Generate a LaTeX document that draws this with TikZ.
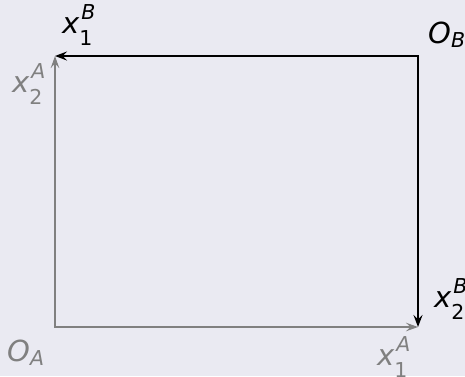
\documentclass[tikz,border=0pt]{standalone}
\usepackage{fontspec}
\setmainfont{DejaVu Sans}
\usetikzlibrary{arrows.meta}
\definecolor{bgc}{HTML}{EAEAF2}
\definecolor{axg}{HTML}{808080}
\newcommand\scr{\fontsize{20.5}{20.5}\selectfont}
\newcommand\ssb[3]{\itshape #1\makebox[0pt][l]{\hspace{2pt}\raisebox{14pt}{\scr #3}}\raisebox{-12pt}{\scr\upshape #2}}
\newcommand\sbo[2]{\itshape #1\raisebox{-4pt}{\scr #2}}
\begin{document}
\begin{tikzpicture}[x=1pt,y=-1pt,
  lbl/.style={anchor=base west,inner sep=0pt,font=\fontsize{29}{29}\selectfont},
  blk/.style={draw=black,line width=2.4pt,line cap=rect,-{Stealth[length=12pt,width=9pt,inset=4.5pt]}},
  gry/.style={draw=axg,line width=1.8pt,line cap=rect,-{Stealth[length=12pt,width=8.5pt,inset=4.5pt]}}]
\fill[bgc] (0,0) rectangle (465,376);
\useasboundingbox (0,0) rectangle (465,376);
\coordinate (OAc) at (55,327);
\coordinate (OBc) at (418,56);
\coordinate (TL) at (55,56);
\coordinate (BR) at (418,327);
\draw[gry] (OAc) -- (BR);
\draw[gry] (OAc) -- (TL);
\draw[blk] (OBc) -- (TL);
\draw[blk] (OBc) -- (BR);
\node[lbl] (x1B) at (62,33) {\ssb{x}{1}{B}};
\node[lbl,text=axg] (x2A) at (12,92) {\ssb{x}{2}{A}};
\node[lbl] (x2B) at (434,307) {\ssb{x}{2}{B}};
\node[lbl,text=axg] (x1A) at (377,365) {\ssb{x}{1}{A}};
\node[lbl] (OB) at (428,43) {\sbo{O}{B}};
\node[lbl,text=axg] (OA) at (7,361) {\sbo{O}{A}};
\end{tikzpicture}
\end{document}
